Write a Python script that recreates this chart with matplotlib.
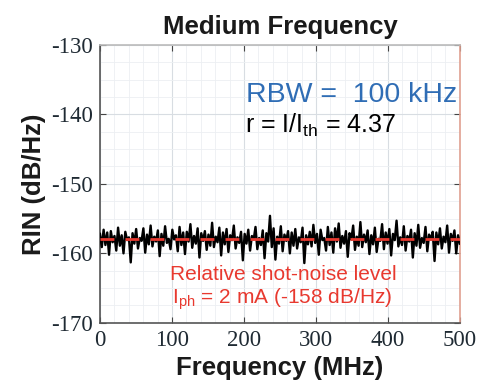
import matplotlib
matplotlib.use("Agg")
import matplotlib.pyplot as plt
import numpy as np
from matplotlib.ticker import MultipleLocator

plt.rcParams["axes.unicode_minus"] = False

# Data
freq_start, freq_stop = 0, 500
rin = [
    -157.2, -159.1, -156.6, -158.8, -157.0, -160.2, -156.8, -158.4, -157.5, -159.6,
    -156.3, -158.9, -157.4, -160.0, -156.9, -158.1, -157.7, -161.3, -157.1, -158.6,
    -156.5, -159.3, -157.8, -158.2, -156.4, -159.9, -157.3, -158.7, -156.0, -159.0,
    -157.6, -158.3, -156.7, -160.4, -157.2, -158.9, -156.1, -158.5, -157.9, -159.4,
    -156.6, -158.0, -157.4, -159.7, -156.2, -158.8, -157.0, -160.1, -156.9, -158.3,
    -155.8, -159.2, -157.5, -158.6, -156.4, -160.6, -157.1, -158.2, -156.8, -159.5,
    -157.3, -158.9, -155.6, -159.1, -157.6, -158.4, -156.3, -160.3, -157.0, -158.7,
    -156.5, -159.8, -157.4, -158.1, -156.0, -159.3, -157.7, -158.5, -156.9, -161.0,
    -157.2, -158.6, -156.6, -159.6, -157.5, -158.0, -156.2, -159.4, -157.8, -158.8,
    -156.7, -160.7, -157.1, -158.3, -154.6, -159.1, -156.4, -160.9, -157.6, -158.6,
    -156.1, -159.7, -157.3, -158.2, -156.8, -160.0, -157.0, -158.9, -156.5, -159.3,
    -157.7, -158.4, -156.3, -161.4, -157.4, -158.7, -156.9, -159.0, -155.9, -158.5,
    -157.2, -160.2, -156.6, -158.1, -157.8, -159.6, -156.2, -158.8, -157.0, -159.9,
    -156.4, -158.3, -155.7, -159.2, -157.5, -158.6, -156.8, -160.5, -157.1, -158.0,
    -156.0, -159.5, -157.6, -158.9, -155.5, -159.1, -157.3, -158.4, -156.7, -160.1,
    -157.4, -158.7, -156.3, -159.8, -157.9, -158.2, -155.8, -159.4, -157.0, -158.6,
    -156.5, -160.3, -157.2, -158.1, -155.3, -159.0, -157.7, -158.8, -156.1, -159.6,
    -157.5, -158.3, -156.6, -160.6, -157.1, -158.9, -155.9, -159.2, -157.8, -158.5,
    -156.2, -159.7, -157.3, -158.0, -156.9, -161.1, -157.0, -158.7, -156.4, -159.3,
    -157.6, -158.4, -156.0, -159.9, -157.2, -158.2, -156.7, -160.0, -157.4, -158.6,
]
shot_noise_level = -158
xticks = [0, 100, 200, 300, 400, 500]
yticks = [-170, -160, -150, -140, -130]

freq = np.linspace(freq_start, freq_stop, len(rin))

fig = plt.figure(figsize=(4.95, 3.83), dpi=100)
ax = fig.add_axes([0.202, 0.157, 0.727, 0.726])

ax.plot(freq, rin, color="black", lw=1.7, zorder=3)
ax.axhline(shot_noise_level, color="#e8392f", lw=2.0, ls=(0, (5, 4)), zorder=4)

ax.set_xlim(0, 500)
ax.set_ylim(-170, -130)
ax.set_xticks(xticks)
ax.set_yticks(yticks)
ax.xaxis.set_minor_locator(MultipleLocator(20))
ax.yaxis.set_minor_locator(MultipleLocator(2.5))
ax.grid(which="major", color="#d8dde2", lw=0.8)
ax.grid(which="minor", color="#eceff2", lw=0.6)
ax.set_axisbelow(True)
ax.tick_params(which="minor", length=0)
ax.tick_params(which="major", direction="in", length=4, color="#444444",
               top=True, right=True, labelsize=16.5, labelcolor="#1f2a33", pad=5)
for lab in ax.get_xticklabels() + ax.get_yticklabels():
    lab.set_family("Liberation Serif")

ax.spines["left"].set_color("#555555")
ax.spines["bottom"].set_color("#555555")
ax.spines["top"].set_color("#bbbbbb")
ax.spines["right"].set_color("#e0a090")
for s in ax.spines.values():
    s.set_linewidth(1.2)

ax.set_title("Medium Frequency", fontsize=18.5, fontweight="bold",
             family="Liberation Sans", color="#1a1a1a", pad=8)
ax.set_xlabel("Frequency (MHz)", fontsize=18.5, fontweight="bold",
              family="Liberation Sans", color="#1a1a1a", labelpad=4)
ax.set_ylabel("RIN (dB/Hz)", fontsize=18.5, fontweight="bold",
              family="Liberation Sans", color="#1a1a1a", labelpad=4)

ax.text(0.992, 0.82, "RBW =  100 kHz", transform=ax.transAxes, ha="right",
        va="center", fontsize=20.5, color="#2f6db5", family="Liberation Sans")
ax.text(0.403, 0.71, r"r = I/I$_{\mathregular{th}}$ = 4.37", transform=ax.transAxes,
        ha="left", va="center", fontsize=18, color="black", family="Liberation Sans")
ax.text(0.51, 0.175, "Relative shot-noise level", transform=ax.transAxes,
        ha="center", va="center", fontsize=15, color="#e8392f", family="Liberation Sans")
ax.text(0.506, 0.085, r"I$_{\mathregular{ph}}$ = 2 mA (-158 dB/Hz)", transform=ax.transAxes,
        ha="center", va="center", fontsize=15, color="#e8392f", family="Liberation Sans")

fig.savefig("out.png", dpi=100)
